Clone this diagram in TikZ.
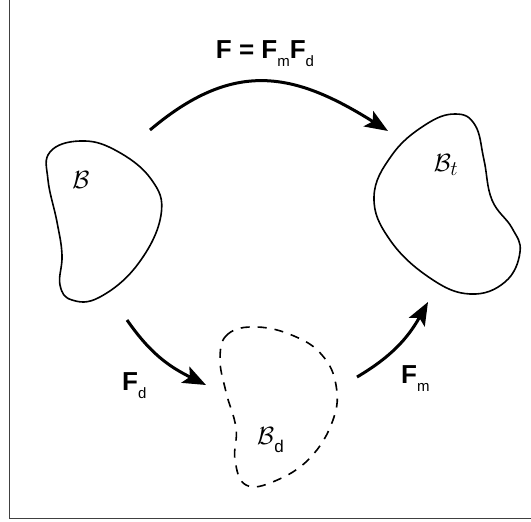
\documentclass[tikz,border=0pt]{standalone}
\usepackage{fontspec}
\setmainfont{Liberation Sans}
\usetikzlibrary{arrows.meta}
\newcommand\mysub[2][15]{\raisebox{-8pt}{\fontsize{#1}{#1}\selectfont\mdseries #2}}
\begin{document}
\begin{tikzpicture}[x=1pt,y=-1pt,
  blob/.style={line width=1.6pt, line join=round},
  dblob/.style={blob, dash pattern=on 9pt off 8pt},
  flow/.style={line width=3pt, -{Stealth[length=23pt,width=18pt,inset=5pt]}},
  lab/.style={inner sep=0pt, font=\fontsize{26}{30}\selectfont\bfseries},
  body/.style={inner sep=0pt, font=\fontsize{31}{34}\selectfont}]
\useasboundingbox (0,0) rectangle (531,522);
\fill[white] (0,0) rectangle (531,522);
% frame
\draw[line width=1.5pt, color=black!75] (9.5,0) -- (9.5,518.5) -- (531,518.5);
% body B
\draw[blob] plot[smooth cycle, tension=0.7] coordinates {
 (50,152) (48,180) (57,222) (62,255) (60,285) (72,300) (100,297) (138,264)
 (161,215) (151,179) (115,150) (80,141)};
% body Bt
\draw[blob] plot[smooth cycle, tension=0.7] coordinates {
 (455,114) (475,125) (484,160) (492,200) (512,228) (520,252) (505,282) (470,294)
 (430,278) (390,240) (374,197) (392,155) (425,125)};
% body Bd (dashed)
\draw[dblob] plot[smooth cycle, tension=0.7] coordinates {
 (257,327) (228,334) (220,358) (226,392) (236,428) (235,460) (246,485) (275,481)
 (310,458) (333,420) (336,385) (322,355) (294,336)};
% labels in bodies
\node[body] (lB) at (81,180) {$\mathcal{B}$};
\node[body] (lBt) at (446,165) {$\mathcal{B}_t$};
\node[body, anchor=base west] (lBd) at (257,444) {$\mathcal{B}$\mysub[17]{d}};
% arrow end points
\coordinate (fS) at (150,130);
\coordinate (fE) at (388,131);
\coordinate (dS) at (127,320);
\coordinate (dE) at (206,385);
\coordinate (mS) at (357,377);
\coordinate (mE) at (428,302);
\draw[flow] (fS) .. controls (234,59) and (294,72) .. (fE);
\draw[flow] (dS) .. controls (150,353) and (168,366) .. (dE);
\draw[flow] (mS) .. controls (391,357) and (408,338) .. (mE);
% arrow labels
\node[lab, anchor=base] (tF) at (265,58) {F = F\mysub{m}F\mysub{d}};
\node[lab, anchor=base west] (tFd) at (122,390) {F\mysub{d}};
\node[lab, anchor=base west] (tFm) at (401,383) {F\mysub{m}};
\end{tikzpicture}
\end{document}
